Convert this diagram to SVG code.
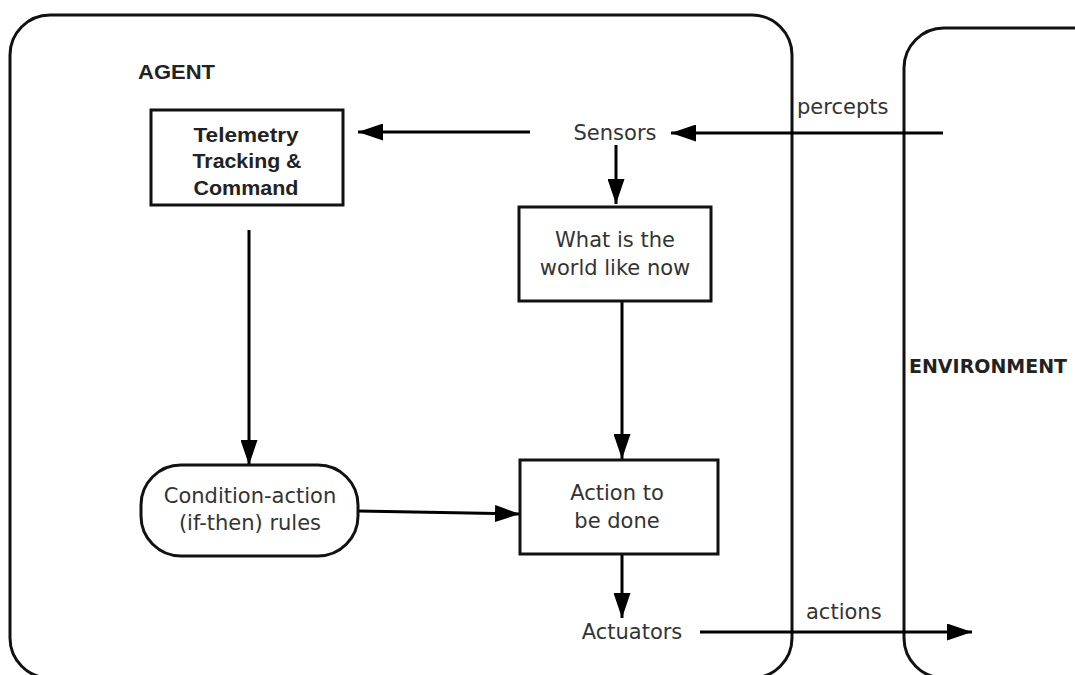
<svg xmlns="http://www.w3.org/2000/svg" width="1075" height="675" viewBox="0 0 1075 675">
<defs>
<marker id="arr" markerUnits="userSpaceOnUse" markerWidth="26" markerHeight="17" refX="25" refY="8.5" orient="auto">
<path d="M0,0 L25,8.5 L0,17 z" fill="#000"/>
</marker>
<style>
.frame{fill:none;stroke:#111;stroke-width:3}
.box{fill:#fff;stroke:#111;stroke-width:3}
.edge{stroke:#000;stroke-width:3;fill:none;marker-end:url(#arr)}
.t{font-family:"DejaVu Sans",sans-serif;font-size:21px;fill:#333;text-anchor:middle}
.tl{font-family:"DejaVu Sans",sans-serif;font-size:21px;fill:#333}
.b{font-family:"Liberation Sans",Arial,sans-serif;font-weight:bold;font-size:20px;fill:#222;text-anchor:middle}
.h{font-family:"Liberation Sans",Arial,sans-serif;font-weight:bold;font-size:20px;fill:#222}
.env{font-family:"DejaVu Sans",sans-serif;font-weight:bold;font-size:20px;fill:#222}
</style>
</defs>
<rect width="1075" height="675" fill="#fff"/>
<g id="agent">
<rect class="frame" x="10" y="15" width="782" height="663" rx="40" ry="40"/>
<text class="h" x="138" y="79" textLength="77" lengthAdjust="spacingAndGlyphs">AGENT</text>
</g>
<g id="environment">
<rect class="frame" x="904" y="28" width="220" height="650" rx="40" ry="40"/>
<text class="env" x="909" y="373" textLength="158" lengthAdjust="spacingAndGlyphs">ENVIRONMENT</text>
</g>
<g id="connectors">
<line class="edge" x1="943" y1="133" x2="671" y2="133"/>
<line class="edge" x1="530" y1="132" x2="358" y2="132"/>
<line class="edge" x1="616" y1="145" x2="616" y2="204"/>
<line class="edge" x1="622" y1="298" x2="622" y2="459"/>
<line class="edge" x1="249" y1="230" x2="249" y2="465"/>
<line class="edge" x1="358" y1="511" x2="520" y2="514"/>
<line class="edge" x1="622" y1="554" x2="622" y2="618"/>
<line class="edge" x1="700" y1="632" x2="972" y2="632"/>
<text class="tl" x="797" y="114">percepts</text>
<text class="tl" x="806" y="619">actions</text>
</g>
<g id="sensors">
<text class="t" x="615" y="140">Sensors</text>
</g>
<g id="telemetry">
<rect class="box" x="151" y="110" width="192" height="95"/>
<text class="b" x="246" y="142" textLength="105" lengthAdjust="spacingAndGlyphs">Telemetry</text>
<text class="b" x="247" y="168" textLength="109" lengthAdjust="spacingAndGlyphs">Tracking &amp;</text>
<text class="b" x="246" y="195" textLength="105" lengthAdjust="spacingAndGlyphs">Command</text>
</g>
<g id="world">
<rect class="box" x="519" y="207" width="192" height="94"/>
<text class="t" x="615" y="247">What is the</text>
<text class="t" x="615" y="275">world like now</text>
</g>
<g id="rules">
<rect class="box" x="141" y="465" width="217" height="91" rx="40" ry="40"/>
<text class="t" x="250" y="503">Condition-action</text>
<text class="t" x="250" y="530">(if-then) rules</text>
</g>
<g id="action">
<rect class="box" x="520" y="460" width="198" height="94"/>
<text class="t" x="617" y="500">Action to</text>
<text class="t" x="617" y="528">be done</text>
</g>
<g id="actuators">
<text class="t" x="632" y="639">Actuators</text>
</g>
</svg>
